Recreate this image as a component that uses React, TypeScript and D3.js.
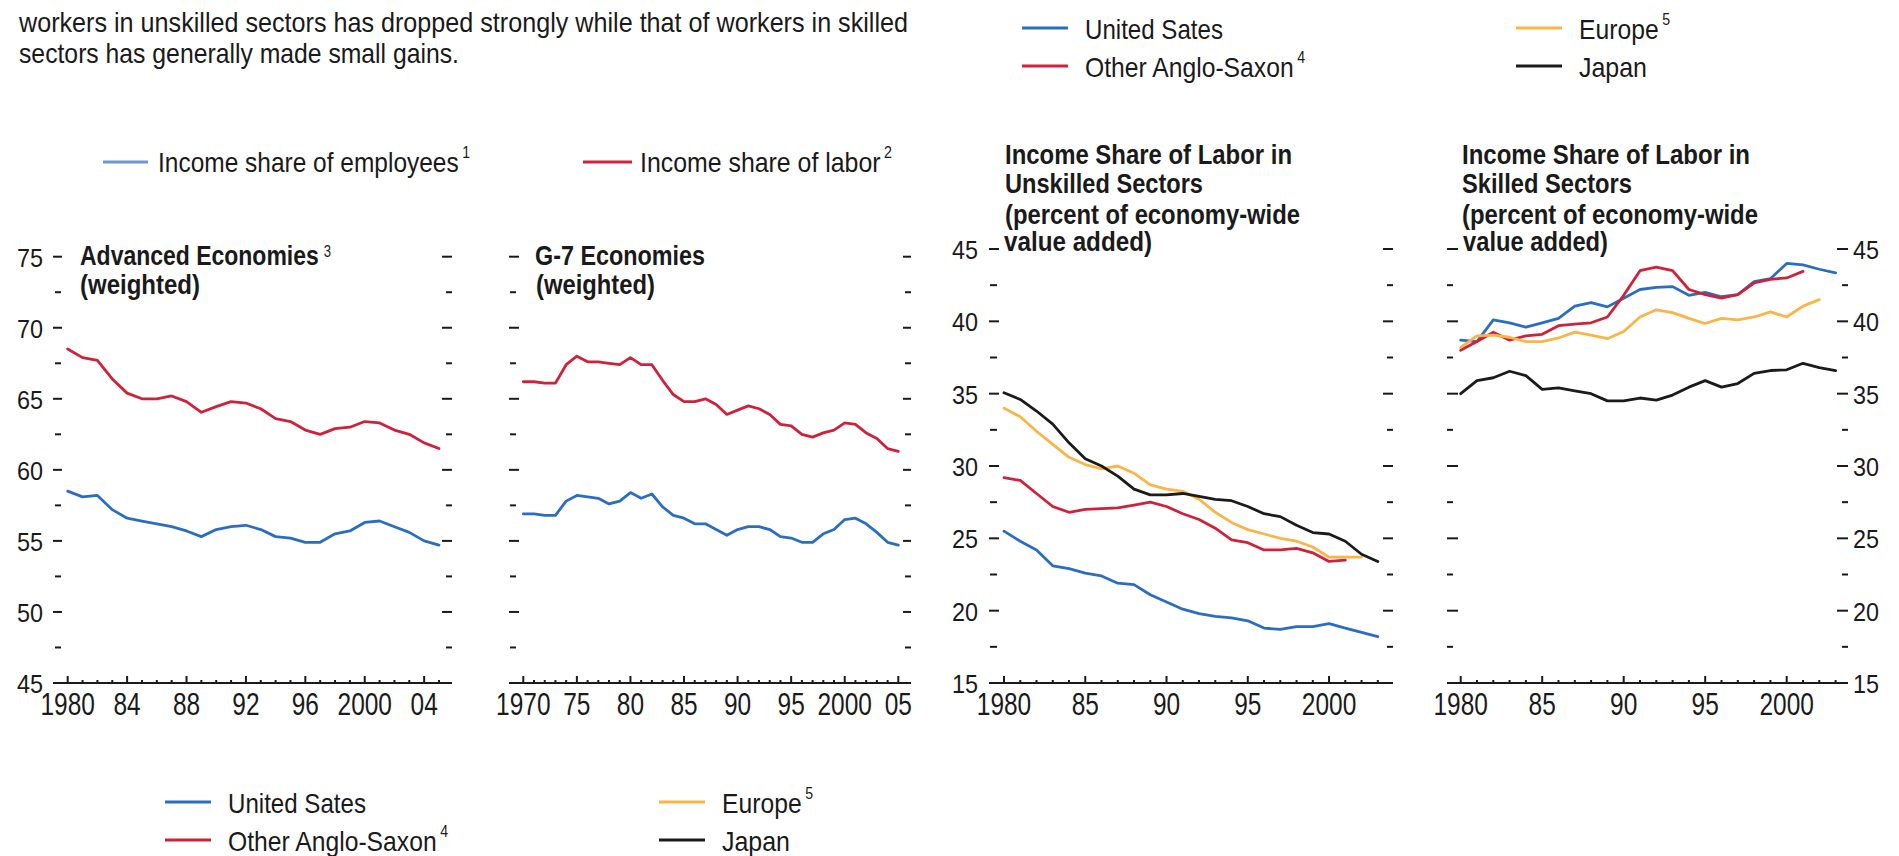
import React from 'react';
import * as d3 from 'd3';

const FONT = '"Liberation Sans", Arial, "DejaVu Sans Condensed", sans-serif';

const BLUE = '#2a6dc2';
const BLUE_LIGHT = '#6e98d4';
const RED = '#d0213b';
const ORANGE = '#fbb446';
const BLACK = '#1b1b1b';
const INK = '#1a1a1a';

// Advanced economies (weighted), from 1980
const advStart = 1980;
const advLabor = [68.5, 67.9, 67.7, 66.4, 65.4, 65.0, 65.0, 65.2, 64.8, 64.05, 64.45, 64.8, 64.7,
  64.3, 63.6, 63.4, 62.8, 62.5, 62.9, 63.0, 63.4, 63.3, 62.8, 62.5, 61.9, 61.5];
const advEmployees = [58.5, 58.1, 58.2, 57.2, 56.6, 56.4, 56.2, 56.0, 55.7, 55.3, 55.8, 56.0, 56.1,
  55.8, 55.3, 55.2, 54.9, 54.9, 55.5, 55.7, 56.3, 56.4, 56.0, 55.6, 55.0, 54.7];

// G-7 economies (weighted), from 1970
const g7Start = 1970;
const g7Labor = [66.2, 66.2, 66.1, 66.1, 67.4, 68.0, 67.6, 67.6, 67.5, 67.4, 67.9, 67.4, 67.4, 66.3,
  65.3, 64.8, 64.8, 65.0, 64.6, 63.9, 64.2, 64.5, 64.3, 63.9, 63.2, 63.1, 62.5, 62.3, 62.6, 62.8,
  63.3, 63.2, 62.6, 62.2, 61.5, 61.3];
const g7Employees = [56.9, 56.9, 56.8, 56.8, 57.8, 58.2, 58.1, 58.0, 57.6, 57.8, 58.4, 58.0, 58.3,
  57.4, 56.8, 56.6, 56.2, 56.2, 55.8, 55.4, 55.8, 56.0, 56.0, 55.8, 55.3, 55.2, 54.9, 54.9, 55.5,
  55.8, 56.5, 56.6, 56.2, 55.6, 54.9, 54.7];

// sector shares, from 1980
const sectorStart = 1980;
const unskilledUS = [25.5, 24.8, 24.2, 23.1, 22.9, 22.6, 22.4, 21.9, 21.8, 21.1, 20.6, 20.1, 19.8,
  19.6, 19.5, 19.3, 18.8, 18.7, 18.9, 18.9, 19.1, 18.8, 18.5, 18.2];
const unskilledAnglo = [29.2, 29.0, 28.1, 27.2, 26.8, 27.0, 27.05, 27.1, 27.3, 27.5, 27.2, 26.7, 26.3,
  25.7, 24.9, 24.7, 24.2, 24.2, 24.3, 24.0, 23.4, 23.5];
const unskilledEurope = [34.0, 33.4, 32.4, 31.5, 30.6, 30.1, 29.8, 30.0, 29.5, 28.7, 28.4, 28.25,
  27.7, 26.8, 26.1, 25.6, 25.3, 25.0, 24.8, 24.4, 23.7, 23.7, 23.7];
const unskilledJapan = [35.06, 34.6, 33.8, 32.9, 31.6, 30.5, 30.0, 29.3, 28.4, 28.0, 28.0, 28.1, 27.9,
  27.7, 27.6, 27.2, 26.7, 26.5, 25.9, 25.4, 25.3, 24.8, 23.9, 23.4];

const skilledUS = [38.7, 38.6, 40.1, 39.9, 39.6, 39.9, 40.2, 41.05, 41.3, 41.0, 41.6, 42.2, 42.35,
  42.4, 41.8, 42.0, 41.7, 41.85, 42.75, 42.95, 44.0, 43.9, 43.6, 43.35];
const skilledAnglo = [38.0, 38.6, 39.25, 38.7, 39.0, 39.1, 39.7, 39.8, 39.9, 40.3, 41.8, 43.5, 43.75,
  43.5, 42.2, 41.85, 41.6, 41.85, 42.65, 42.9, 43.0, 43.45];
const skilledEurope = [38.2, 39.0, 39.05, 38.9, 38.6, 38.6, 38.85, 39.25, 39.05, 38.8, 39.3, 40.3,
  40.8, 40.6, 40.2, 39.85, 40.2, 40.1, 40.3, 40.65, 40.3, 41.05, 41.5];
const skilledJapan = [35.0, 35.9, 36.1, 36.55, 36.25, 35.3, 35.4, 35.2, 35.0, 34.5, 34.5, 34.7, 34.55,
  34.9, 35.45, 35.9, 35.45, 35.7, 36.4, 36.6, 36.65, 37.1, 36.8, 36.6];

const regionNames = ['United Sates', 'Other Anglo-Saxon', 'Europe', 'Japan'];
const regionNotes = ['', '4', '5', ''];
const regionColors = [BLUE, RED, ORANGE, BLACK];

const introLines = [
  'workers in unskilled sectors has dropped strongly while that of workers in skilled',
  'sectors has generally made small gains.',
];

type Series = {start: number; values: number[]; color: string};
type PanelCfg = {
  xDomain: [number, number]; xRange: [number, number];
  yDomain: [number, number]; yRange: [number, number];
  xStep: number; axis: [number, number];
  leftMajor: [number, number]; leftMinor: [number, number];
  rightMajor: [number, number]; rightMinor: [number, number];
  labelSide: 'left' | 'right' | 'none'; labelX: number;
  series: Series[];
};

// text squeezed to a fixed width; a footnote mark rides along as a raised tspan
function Txt({x, y, text, size, len, bold, sup, supDy = 14, supGap = 4}: any) {
  const total = sup ? len + supGap + 9 : len;
  return (
    <text x={x} y={y} fontSize={size} fontWeight={bold ? 'bold' : 'normal'} fill={INK}
      textLength={total} lengthAdjust="spacingAndGlyphs">
      {text}
      {sup ? <tspan dx={supGap} dy={-supDy} fontSize={16} fontWeight="normal">{sup}</tspan> : null}
    </text>
  );
}

function Panel({cfg}: {cfg: PanelCfg}) {
  const x = d3.scaleLinear().domain(cfg.xDomain).range(cfg.xRange);
  const y = d3.scaleLinear().domain(cfg.yDomain).range(cfg.yRange);
  const years = d3.range(cfg.xDomain[0], cfg.xDomain[1] + 1);
  const yTicks = d3.range(cfg.yDomain[0] + 2.5, cfg.yDomain[1] + 0.1, 2.5);
  const yLabels = d3.range(cfg.yDomain[0], cfg.yDomain[1] + 0.1, 5);
  const axisY = cfg.yRange[0];
  const fmt = (yr: number, first: boolean) => (first || yr === 2000 ? `${yr}` : d3.format('02d')(yr % 100));
  return (
    <g>
      {yTicks.map((v) => {
        const major = v % 5 === 0;
        const l = major ? cfg.leftMajor : cfg.leftMinor;
        const r = major ? cfg.rightMajor : cfg.rightMinor;
        return (
          <g key={v} stroke={INK} strokeWidth={2}>
            <line x1={l[0]} x2={l[1]} y1={y(v)} y2={y(v)} />
            <line x1={r[0]} x2={r[1]} y1={y(v)} y2={y(v)} />
          </g>
        );
      })}
      {cfg.labelSide !== 'none' && yLabels.map((v) => (
        <text key={v} x={cfg.labelX} y={y(v) + 10} fontSize={26} fill={INK}
          textLength={26} lengthAdjust="spacingAndGlyphs"
          textAnchor={cfg.labelSide === 'left' ? 'end' : 'start'}>{v}</text>
      ))}
      <line x1={cfg.axis[0]} x2={cfg.axis[1]} y1={axisY} y2={axisY} stroke={INK} strokeWidth={2} />
      {years.map((yr) => {
        const major = (yr - cfg.xDomain[0]) % cfg.xStep === 0;
        const label = fmt(yr, yr === cfg.xDomain[0]);
        return (
          <g key={yr}>
            <line x1={x(yr)} x2={x(yr)} y1={axisY} y2={axisY - (major ? 7 : 3)} stroke={INK} strokeWidth={2} />
            {major ? (
              <text x={x(yr)} y={axisY + 32} fontSize={31} fill={INK} textAnchor="middle"
                textLength={label.length * 13.6} lengthAdjust="spacingAndGlyphs">
                {label}
              </text>
            ) : null}
          </g>
        );
      })}
      {cfg.series.map((s, i) => {
        const line = d3.line<number>().x((_, j) => x(s.start + j)).y((d) => y(d));
        return <path key={i} d={line(s.values) || ''} fill="none" stroke={s.color} strokeWidth={2.8}
          strokeLinejoin="round" strokeLinecap="round" />;
      })}
    </g>
  );
}

const panels: PanelCfg[] = [
  {
    xDomain: [1980, 2005], xRange: [67.7, 439], yDomain: [45, 75], yRange: [683, 256.7], xStep: 4,
    axis: [53, 452], leftMajor: [53, 62], leftMinor: [55, 61], rightMajor: [442, 452], rightMinor: [446, 452],
    labelSide: 'left', labelX: 43,
    series: [
      {start: advStart, values: advEmployees, color: BLUE},
      {start: advStart, values: advLabor, color: RED},
    ],
  },
  {
    xDomain: [1970, 2005], xRange: [523.3, 898.3], yDomain: [45, 75], yRange: [683, 256.7], xStep: 5,
    axis: [509, 911], leftMajor: [509, 519], leftMinor: [510, 516], rightMajor: [903, 911], rightMinor: [905, 911],
    labelSide: 'none', labelX: 0,
    series: [
      {start: g7Start, values: g7Employees, color: BLUE},
      {start: g7Start, values: g7Labor, color: RED},
    ],
  },
  {
    xDomain: [1980, 2003], xRange: [1004, 1377.8], yDomain: [15, 45], yRange: [683, 249], xStep: 5,
    axis: [989, 1393], leftMajor: [989, 999], leftMinor: [990, 997], rightMajor: [1383, 1393], rightMinor: [1387, 1393],
    labelSide: 'left', labelX: 978,
    series: [unskilledUS, unskilledAnglo, unskilledEurope, unskilledJapan].map((v, i) => (
      {start: sectorStart, values: v, color: regionColors[i]})),
  },
  {
    xDomain: [1980, 2003], xRange: [1460.7, 1835.6], yDomain: [15, 45], yRange: [683, 249], xStep: 5,
    axis: [1447, 1848], leftMajor: [1447, 1458], leftMinor: [1447, 1453], rightMajor: [1837, 1848], rightMinor: [1842, 1848],
    labelSide: 'right', labelX: 1853,
    series: [skilledUS, skilledAnglo, skilledEurope, skilledJapan].map((v, i) => (
      {start: sectorStart, values: v, color: regionColors[i]})),
  },
];

function RegionLegend({x, y}: {x: number; y: number}) {
  // two columns of two entries
  const nameLen = [138, 207, 78, 68];
  return (
    <g>
      {regionNames.map((name, i) => {
        const col = i < 2 ? 0 : 1;
        const row = i % 2;
        const lx = x + col * 494;
        const ly = y + row * 38;
        return (
          <g key={name}>
            <line x1={lx} x2={lx + 46} y1={ly} y2={ly} stroke={regionColors[i]} strokeWidth={3.2} />
            <Txt x={lx + 63} y={ly + 11} text={name} size={28} len={nameLen[i]} sup={regionNotes[i]} />
          </g>
        );
      })}
    </g>
  );
}

export default function App() {
  return (
    <svg width={1899} height={856} fontFamily={FONT}
      style={{position: 'absolute', left: 0, top: 0, background: '#fff'}}>
      <Txt x={19} y={31.5} text={introLines[0]} size={28} len={889} />
      <Txt x={19} y={63} text={introLines[1]} size={28} len={440} />

      <RegionLegend x={1022} y={28} />

      <line x1={103} x2={148} y1={162} y2={162} stroke={BLUE_LIGHT} strokeWidth={3.2} />
      <Txt x={158} y={172} text="Income share of employees" size={28} len={299} sup="1" />
      <line x1={583} x2={632} y1={162} y2={162} stroke={RED} strokeWidth={3.2} />
      <Txt x={640} y={172} text="Income share of labor" size={28} len={239} sup="2" />

      <Txt x={80} y={265} text="Advanced Economies" size={28} len={236} bold sup="3" supDy={8} supGap={6} />
      <Txt x={80} y={294} text="(weighted)" size={28} len={120} bold />
      <Txt x={535} y={265} text="G-7 Economies" size={28} len={170} bold />
      <Txt x={536} y={294} text="(weighted)" size={28} len={119} bold />

      <Txt x={1005} y={164} text="Income Share of Labor in" size={28} len={287} bold />
      <Txt x={1005} y={193} text="Unskilled Sectors" size={28} len={198} bold />
      <Txt x={1005} y={224} text="(percent of economy-wide" size={28} len={295} bold />
      <Txt x={1004} y={251} text="value added)" size={28} len={148} bold />

      <Txt x={1462} y={164} text="Income Share of Labor in" size={28} len={288} bold />
      <Txt x={1462} y={193} text="Skilled Sectors" size={28} len={170} bold />
      <Txt x={1462} y={224} text="(percent of economy-wide" size={28} len={296} bold />
      <Txt x={1463} y={251} text="value added)" size={28} len={145} bold />

      {panels.map((p, i) => <Panel key={i} cfg={p} />)}

      <RegionLegend x={165} y={802} />
    </svg>
  );
}
